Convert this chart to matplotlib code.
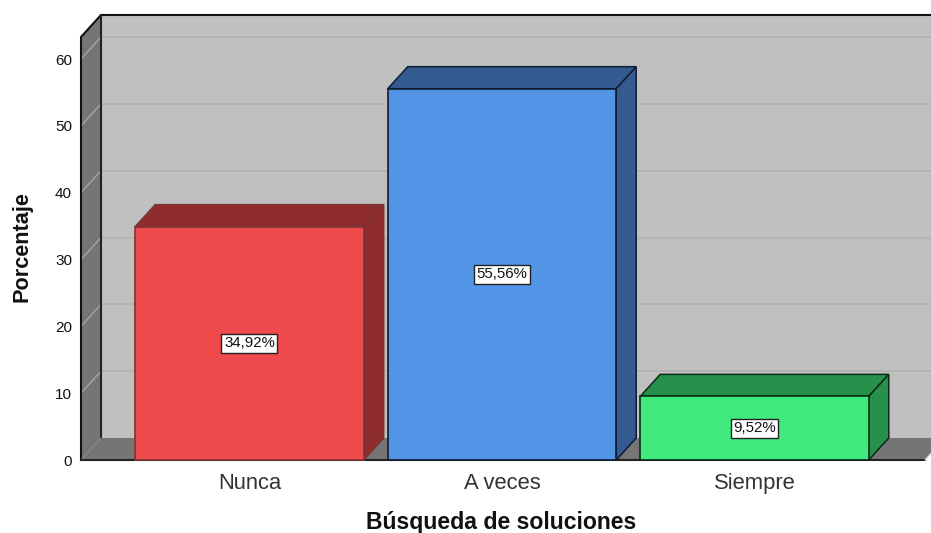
import matplotlib.pyplot as plt
from matplotlib.patches import Polygon

plt.rcParams['font.family'] = ['Liberation Sans', 'DejaVu Sans']

categories = ['Nunca', 'A veces', 'Siempre']
values = [34.92, 55.56, 9.52]
labels = ['34,92%', '55,56%', '9,52%']
yticks = [0, 10, 20, 30, 40, 50, 60]
front_colors = ['#ef4b4d', '#5294e6', '#3fe97e']
dark_colors = ['#8f2d2e', '#335b90', '#26904c']
edge_colors = ['#7a3534', '#101c30', '#0c2a16']

W, H = 931, 533
dx, dy = 20 / 252.5, 22 / 6.68      # depth of the 3d box
xmin, xmax = -0.667, 2.699
xfloor = 2.675      # front right corner of the floor
ytop = 63.3
bar_w = 0.905

fig = plt.figure(figsize=(W / 100, H / 100), dpi=100)
ax = fig.add_axes([81 / W, (H - 460) / H, (931 - 81) / W, (460 - 37) / H])
ax.set_xlim(xmin, xmax)
ax.set_ylim(0, ytop)
for s in ax.spines.values():
    s.set_visible(False)


def poly(pts, fc, ec='none', lw=0, z=1):
    ax.add_patch(Polygon(pts, closed=True, fc=fc, ec=ec, lw=lw, zorder=z, clip_on=False))


# back wall, floor, left wall
xr = xfloor + dx
poly([(xmin + dx, dy), (xr + 1, dy), (xr + 1, ytop + dy), (xmin + dx, ytop + dy)], '#c0c0c0')
poly([(xmin, 0), (xmin + dx, dy), (xr, dy), (xfloor, 0)], '#757575', z=1.2)
poly([(xmin, 0), (xmin + dx, dy), (xmin + dx, ytop + dy), (xmin, ytop)], '#757575', z=1.2)

for t in yticks[1:] + [ytop]:
    ax.plot([xmin + dx, xr], [t + dy, t + dy], color='#b2b2b2', lw=1.2, zorder=1.1, clip_on=False)
    ax.plot([xmin, xmin + dx], [t, t + dy], color='#a6a6a6', lw=1.0, zorder=1.3, clip_on=False)

ax.plot([xmin, xmin, xmin + dx, xr], [0, ytop, ytop + dy, ytop + dy], color='#111111', lw=1.5, zorder=1.5, clip_on=False)
ax.plot([xmin + dx, xmin + dx], [dy, ytop + dy], color='#222222', lw=1.5, zorder=1.5, clip_on=False)
ax.plot([xmin, xmin + dx], [0, dy], color='#8a8a8a', lw=0.8, zorder=1.5, clip_on=False)
ax.plot([xmin, xfloor], [0, 0], color='#222222', lw=1.5, zorder=1.5, clip_on=False)
ax.plot([xfloor, xr], [0, dy], color='#dddddd', lw=0.8, zorder=1.5, clip_on=False)

# bars
for i, v in enumerate(values):
    x0, x1 = i - bar_w / 2, i + bar_w / 2
    ec = edge_colors[i]
    poly([(x0, v), (x0 + dx, v + dy), (x1 + dx, v + dy), (x1, v)], dark_colors[i], ec, 1.1, z=2)
    poly([(x1, 0), (x1 + dx, dy), (x1 + dx, v + dy), (x1, v)], dark_colors[i], ec, 1.1, z=2)
    ax.bar(i, v, width=bar_w, color=front_colors[i], edgecolor=ec, linewidth=1.2, zorder=3, clip_on=False)
    ax.text(i, v / 2, labels[i], ha='center', va='center', fontsize=10.8, color='#111111', zorder=4,
            bbox=dict(boxstyle='square,pad=0.17', fc='white', ec='#222222', lw=1))

ax.set_xticks(range(len(categories)))
ax.set_xticklabels(categories, fontsize=15.8, color='#333333')
ax.set_yticks(yticks)
ax.set_yticklabels([str(t) for t in yticks], fontsize=11, color='#111111')
ax.tick_params(axis='x', length=0, pad=9.5)
ax.tick_params(axis='y', length=0, pad=6.5)
ax.set_xlabel('Búsqueda de soluciones', fontsize=16.6, fontweight='bold', color='#111111')
ax.xaxis.set_label_coords((501.5 - 81) / 850, -62.5 / 423, transform=ax.transAxes)
ax.xaxis.label.set_va('center')
ax.set_ylabel('Porcentaje', fontsize=15.6, fontweight='bold', color='#111111')
ax.yaxis.set_label_coords((22 - 81) / 850, (460 - 247) / 423, transform=ax.transAxes)
ax.yaxis.label.set_va('center')

plt.savefig('out.png', dpi=100)
